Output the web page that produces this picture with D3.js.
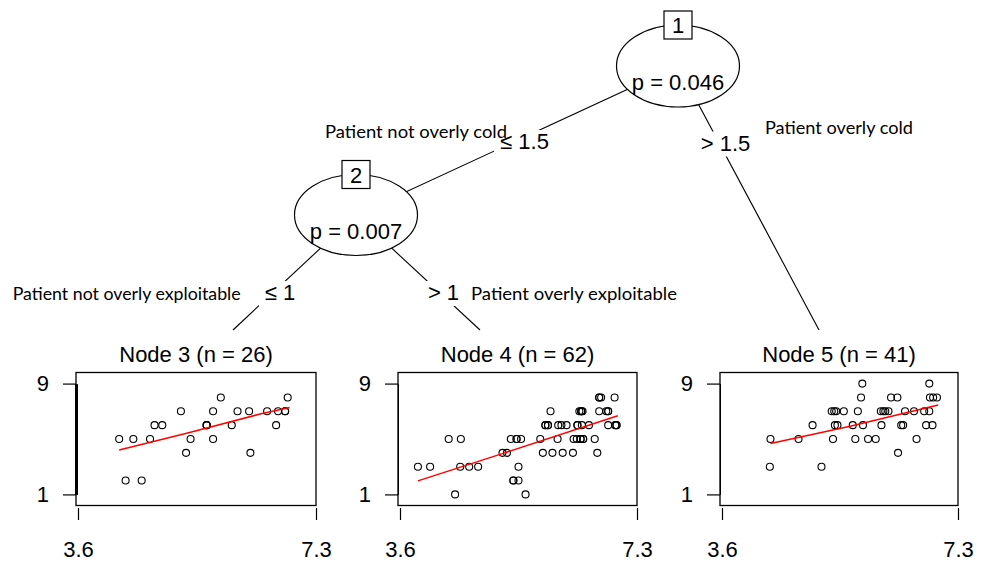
<!DOCTYPE html>
<html>
<head>
<meta charset="utf-8">
<script src="https://cdnjs.cloudflare.com/ajax/libs/d3/7.8.5/d3.min.js"></script>
<style>
  body { margin: 0; background: #fff; }
  svg { display: block; }
  .r { font-family: "Liberation Sans", Arial, sans-serif; font-size: 22px; fill: #000; }
  .note { font-family: Lato, "Open Sans", sans-serif; font-size: 18px; fill: #000; }
</style>
</head>
<body>
<svg id="chart" width="988" height="561"></svg>
<script>
// ---- data ----
var xTicks = [3.6, 7.3];
var yTicks = [1, 9];

var pValues = ["0.046", "0.007"];
var splitLabels = ["\u2264 1.5", "> 1.5", "\u2264 1", "> 1"];
var notes = ["Patient not overly cold", "Patient overly cold", "Patient not overly exploitable", "Patient overly exploitable"];

var node3X = [4.24, 4.46, 4.72, 4.34, 4.59, 4.79, 4.91, 5.20, 5.28, 5.35, 5.60, 5.60, 5.60, 5.70, 5.70, 5.82, 5.99, 6.08, 6.26, 6.28, 6.54, 6.68, 6.71, 6.82, 6.82, 6.86];
var node3Y = [5, 5, 5, 2, 2, 6, 6, 7, 4, 5, 6, 6, 6, 7, 5, 8, 6, 7, 7, 4, 7, 6, 7, 7, 7, 8];

var node4X = [6.71, 6.71, 6.74, 6.95,
  5.95, 6.40, 6.43, 6.43, 6.43, 6.45, 6.71, 6.82, 6.85, 6.85,
  5.87, 5.87, 5.91, 5.91, 6.07, 6.12, 6.20, 6.37, 6.37, 6.44, 6.55, 6.85, 6.96, 6.98, 6.98,
  4.36, 4.55, 5.33, 5.42, 5.42, 5.49, 5.79, 6.06, 6.31, 6.36, 6.42, 6.42, 6.46, 6.46, 6.64,
  5.20, 5.27, 5.83, 5.98, 6.14, 6.30, 6.68,
  3.88, 4.07, 4.54, 4.68, 4.82, 5.45,
  5.37, 5.37, 5.45,
  4.46, 5.56];
var node4Y = [8, 8, 8, 8,
  7, 7, 7, 7, 7, 7, 7, 7, 7, 7,
  6, 6, 6, 6, 6, 6, 6, 6, 6, 6, 6, 6, 6, 6, 6,
  5, 5, 5, 5, 5, 5, 5, 5, 5, 5, 5, 5, 5, 5, 5,
  4, 4, 4, 4, 4, 4, 4,
  3, 3, 3, 3, 3, 3,
  2, 2, 2,
  1, 1];

var node5X = [5.80, 6.85,
  5.78, 6.25, 6.35, 6.86, 6.91, 6.97,
  5.32, 5.36, 5.39, 5.51, 5.73, 6.09, 6.13, 6.16, 6.21, 6.47, 6.61, 6.77, 6.85,
  5.02, 5.37, 5.41, 5.65, 5.81, 6.10, 6.41, 6.44, 6.80, 6.90,
  4.36, 4.80, 5.34, 5.69, 5.89, 6.01, 6.65,
  6.36,
  4.35, 5.16];
var node5Y = [9, 9,
  8, 8, 8, 8, 8, 8,
  7, 7, 7, 7, 7, 7, 7, 7, 7, 7, 7, 7, 7,
  6, 6, 6, 6, 6, 6, 6, 6, 6, 6,
  5, 5, 5, 5, 5, 5, 5,
  4,
  3, 3];

// red fitted lines
var node3FitX = [4.24, 5.29, 6.43, 6.89];
var node3FitY = [4.20, 5.42, 6.80, 7.28];
var node4FitX = [3.88, 5.21, 7.00];
var node4FitY = [1.98, 3.96, 6.68];
var node5FitX = [4.36, 5.61, 6.99];
var node5FitY = [4.68, 5.92, 7.45];

// ---- layout ----
var svg = d3.select("#chart");

var inner = [
  { id: 1, cx: 678, cy: 66, rx: 61.5, ry: 41 },
  { id: 2, cx: 356, cy: 215, rx: 61.5, ry: 40.5 }
];
var terminals = [
  { id: 3, left: 76, right: 316, top: 372.5, bottom: 505.5, edgeX: 233, xs: node3X, ys: node3Y, fx: node3FitX, fy: node3FitY },
  { id: 4, left: 398, right: 637, top: 372.5, bottom: 505.5, edgeX: 480, xs: node4X, ys: node4Y, fx: node4FitX, fy: node4FitY },
  { id: 5, left: 720, right: 958, top: 372.5, bottom: 505.5, edgeX: 819, xs: node5X, ys: node5Y, fx: node5FitX, fy: node5FitY }
];
var edgeTop = 330;

// edges: [from, to] in pixels
var edges = [
  [[inner[0].cx, inner[0].cy], [inner[1].cx, inner[1].cy]],
  [[inner[0].cx, inner[0].cy], [terminals[2].edgeX, edgeTop]],
  [[inner[1].cx, inner[1].cy], [terminals[0].edgeX, edgeTop]],
  [[inner[1].cx, inner[1].cy], [terminals[1].edgeX, edgeTop]]
];
var labelPos = [[524.5, 149], [725.5, 150.5], [280, 300], [443.5, 300]];
var notePos = [[325, 138, 182], [765, 133.5, 148], [12.7, 299.5, 228], [471, 299.5, 206]];

svg.append("g").selectAll("line")
  .data(edges).join("line")
  .attr("x1", d => d[0][0]).attr("y1", d => d[0][1])
  .attr("x2", d => d[1][0]).attr("y2", d => d[1][1])
  .attr("stroke", "#000").attr("stroke-width", 1.1);

// edge labels with white backing
var lab = svg.append("g").selectAll("g").data(splitLabels).join("g");
lab.append("text").attr("class", "r")
  .attr("x", (d, i) => labelPos[i][0]).attr("y", (d, i) => labelPos[i][1])
  .attr("text-anchor", "middle").text(d => d);
lab.each(function() {
  var t = d3.select(this).select("text");
  var b = t.node().getBBox();
  d3.select(this).insert("rect", "text")
    .attr("x", b.x - 6).attr("y", b.y + 1).attr("width", b.width + 12).attr("height", b.height)
    .attr("fill", "#fff");
});

// inner nodes
var nodes = svg.append("g").selectAll("g").data(inner).join("g");
nodes.append("ellipse")
  .attr("cx", d => d.cx).attr("cy", d => d.cy).attr("rx", d => d.rx).attr("ry", d => d.ry)
  .attr("fill", "#fff").attr("stroke", "#000").attr("stroke-width", 1.2);
nodes.append("rect")
  .attr("x", d => d.cx - 14).attr("y", d => d.cy - d.ry - 14)
  .attr("width", 28).attr("height", 28)
  .attr("fill", "#fff").attr("stroke", "#000").attr("stroke-width", 1.2);
nodes.append("text").attr("class", "r")
  .attr("x", d => d.cx).attr("y", d => d.cy - d.ry + 8)
  .attr("text-anchor", "middle").text(d => d.id);
nodes.append("text").attr("class", "r")
  .attr("x", d => d.cx).attr("y", d => d.cy + 24)
  .attr("text-anchor", "middle").text((d, i) => "p = " + pValues[i]);

// annotations
svg.append("g").selectAll("text").data(notes).join("text")
  .attr("class", "note")
  .attr("x", (d, i) => notePos[i][0]).attr("y", (d, i) => notePos[i][1])
  .attr("textLength", (d, i) => notePos[i][2])
  .attr("lengthAdjust", "spacingAndGlyphs")
  .text(d => d);

// terminal panels
terminals.forEach(function(p, i) {
  var g = svg.append("g");
  var x = d3.scaleLinear().domain([3.6, 7.3]).range([p.left + 2, p.right]);
  var y = d3.scaleLinear().domain([0.2, 9.8]).range([p.bottom, p.top]);

  g.append("text").attr("class", "r")
    .attr("x", (p.left + p.right) / 2).attr("y", 362)
    .attr("text-anchor", "middle")
    .text("Node " + p.id + " (n = " + p.xs.length + ")");

  g.append("rect")
    .attr("x", p.left).attr("y", p.top)
    .attr("width", p.right - p.left).attr("height", p.bottom - p.top)
    .attr("fill", "none").attr("stroke", "#000").attr("stroke-width", 1.3);

  // y axis: line only between the two ticks, as in R
  var yAx = d3.scaleLinear().domain([1, 9]).range([y(1), y(9)]);
  var ya = g.append("g").attr("transform", "translate(" + p.left + ",0)")
    .call(d3.axisLeft(yAx).tickValues(yTicks).tickSize(13).tickSizeOuter(0).tickPadding(14));
  ya.select(".domain").attr("stroke-width", i === 0 ? 3 : 1);
  ya.selectAll("line").attr("stroke-width", 1.2);
  ya.selectAll("text").attr("class", "r").attr("font-size", null).attr("font-family", null);

  var xa = g.append("g").attr("transform", "translate(0,508)")
    .call(d3.axisBottom(x).tickValues(xTicks).tickFormat(d3.format(".1f")).tickSize(12).tickPadding(21));
  xa.select(".domain").remove();
  xa.selectAll("line").attr("stroke-width", 1.2);
  xa.selectAll("text").attr("class", "r").attr("font-size", null).attr("font-family", null);

  g.append("g").selectAll("circle")
    .data(d3.range(p.xs.length)).join("circle")
    .attr("cx", k => x(p.xs[k])).attr("cy", k => y(p.ys[k]))
    .attr("r", 3.5).attr("fill", "none").attr("stroke", "#000").attr("stroke-width", 1.1);

  g.append("path")
    .datum(d3.range(p.fx.length))
    .attr("d", d3.line().x(k => x(p.fx[k])).y(k => y(p.fy[k])))
    .attr("fill", "none").attr("stroke", "#ff0000").attr("stroke-width", 1.5);
});
</script>
</body>
</html>
